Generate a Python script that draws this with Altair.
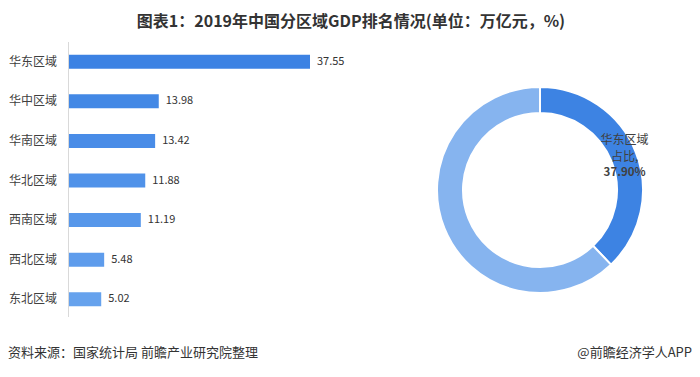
import altair as alt
import pandas as pd

FONT = "Noto Sans CJK SC"

# ---- data ----
regions = ["华东区域", "华中区域", "华南区域", "华北区域", "西南区域", "西北区域", "东北区域"]
gdp = [37.55, 13.98, 13.42, 11.88, 11.19, 5.48, 5.02]

share_parts = ["华东区域", "其他区域"]
share_values = [37.90, 62.10]

title_text = "图表1：2019年中国分区域GDP排名情况(单位：万亿元，%)"
source_text = "资料来源：国家统计局 前瞻产业研究院整理"
brand_text = "@前瞻经济学人APP"

# ---- styles ----
bar_colors = ["#3c82e3", "#4388e5", "#498ce7", "#5092e9", "#5797ea", "#5e9cec", "#66a2ed"]
share_colors = ["#3d83e3", "#86b4ef"]

bars_df = pd.DataFrame({
    "region": regions,
    "gdp": gdp,
    "label": [f"{v:.2f}" for v in gdp],
})

pie_df = pd.DataFrame({
    "part": share_parts,
    "share": share_values,
    "idx": list(range(len(share_parts))),
    "l1": [share_parts[0], ""],
    "l2": ["占比,", ""],
    "l3": [f"{share_values[0]:.2f}%", ""],
})

one = pd.DataFrame({"a": [0]})

xs = alt.Scale(domain=[0, max(gdp)], range=[61, 302], nice=False, zero=True)
ys = alt.Scale(domain=regions, range=[34, 311], paddingInner=0.646, paddingOuter=0.323)

bars = alt.Chart(bars_df).mark_bar().encode(
    x=alt.X("gdp:Q", scale=xs, axis=None),
    y=alt.Y("region:N", scale=ys, axis=None, sort=regions),
    color=alt.Color("region:N", scale=alt.Scale(domain=regions, range=bar_colors), legend=None),
)

values = alt.Chart(bars_df).mark_text(
    align="left", baseline="middle", dx=7, fontSize=11, color="#333333", font=FONT
).encode(
    x=alt.X("gdp:Q", scale=xs, axis=None),
    y=alt.Y("region:N", scale=ys, axis=None, sort=regions),
    text="label:N",
)

cats = alt.Chart(bars_df).mark_text(
    align="right", baseline="middle", fontSize=12, color="#404040", font=FONT
).encode(
    x=alt.value(49),
    y=alt.Y("region:N", scale=ys, axis=None, sort=regions),
    text="region:N",
)

axis_line = alt.Chart(one).mark_rule(color="#d9d9d9", strokeWidth=1).encode(
    x=alt.value(60.5), y=alt.value(34), y2=alt.value(309)
)

CX, CY = 532, 182

donut = alt.Chart(pie_df).mark_arc(
    innerRadius=77, outerRadius=103, stroke="white", strokeWidth=2
).encode(
    theta=alt.Theta("share:Q", stack=True),
    color=alt.Color("part:N", scale=alt.Scale(domain=share_parts, range=share_colors), legend=None),
    order=alt.Order("idx:Q"),
    x=alt.value(CX),
    y=alt.value(CY),
)

def pie_text(field, dy, weight, size):
    return alt.Chart(pie_df).mark_text(
        radius=90, dy=dy, align="center", baseline="middle",
        fontSize=size, color="#404040", font=FONT, fontWeight=weight,
    ).encode(
        theta=alt.Theta("share:Q", stack=True),
        order=alt.Order("idx:Q"),
        detail="part:N",
        text=f"{field}:N",
        x=alt.value(CX + 1),
        y=alt.value(CY),
    )

t1 = pie_text("l1", -16.5, "normal", 12)
t2 = pie_text("l2", 0, "normal", 12)
t3 = pie_text("l3", 16.5, "bold", 11.5)

title = alt.Chart(one).mark_text(
    align="center", baseline="middle", fontSize=16, fontWeight="bold",
    color="#333333", font=FONT,
).encode(x=alt.value(343), y=alt.value(14), text=alt.value(title_text))

source = alt.Chart(one).mark_text(
    align="left", baseline="middle", fontSize=13, color="#333333", font=FONT,
).encode(x=alt.value(0), y=alt.value(345), text=alt.value(source_text))

brand = alt.Chart(one).mark_text(
    align="right", baseline="middle", fontSize=13, color="#333333", font=FONT,
).encode(x=alt.value(684), y=alt.value(345), text=alt.value(brand_text))

chart = alt.layer(
    axis_line, bars, values, cats, donut, t1, t2, t3, title, source, brand
).resolve_scale(
    color="independent", theta="independent"
).properties(
    width=684, height=361, autosize=alt.AutoSizeParams(type="none"),
    padding=0, background="white",
).configure_view(stroke=None)

chart.save("out.html", embed_options={"renderer": "svg", "actions": False})
